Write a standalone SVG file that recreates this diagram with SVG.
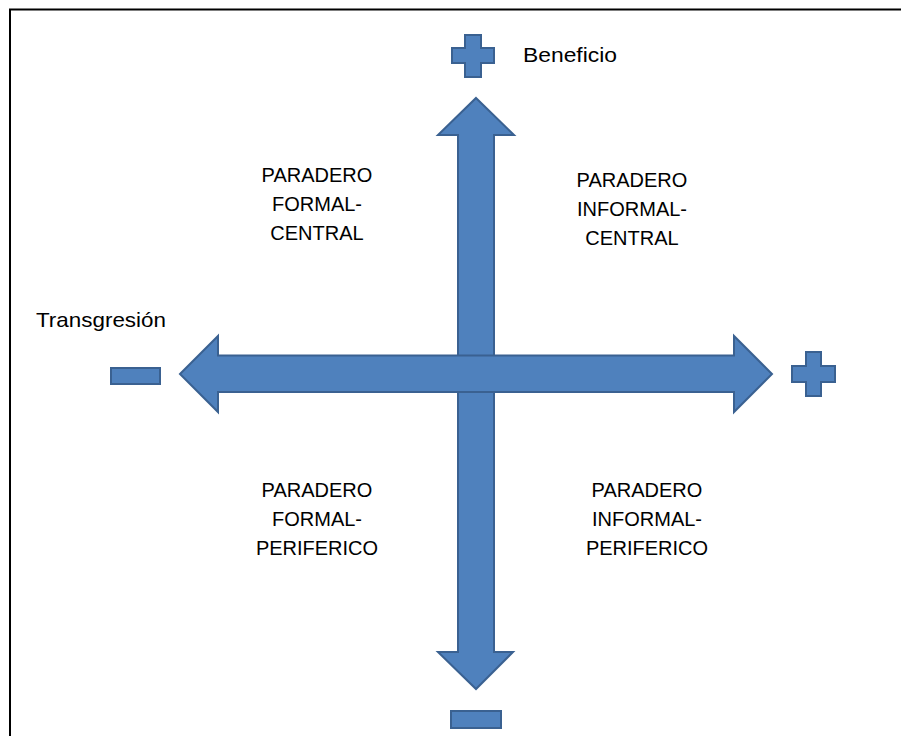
<svg xmlns="http://www.w3.org/2000/svg" width="901" height="736" viewBox="0 0 901 736">
<style>
.shape{fill:#4F81BD;stroke:#3A6191;stroke-width:2;stroke-linejoin:miter}
.q{font-family:"Liberation Sans",Arial,sans-serif;font-size:20px;fill:#000;text-anchor:middle}
.lbl{font-family:"Liberation Sans",Arial,sans-serif;font-size:21px;fill:#000}
</style>
<rect width="901" height="736" fill="#fff"/>
<g id="frame">
<path d="M10 736 V9.5 H901" fill="none" stroke="#000" stroke-width="2"/>
</g>
<g id="connectors">
<path id="axis-vertical" class="shape" d="M476 98 L514 135 L494 135 L494 652 L513 652 L476 689 L438 652 L458 652 L458 135 L438 135 Z"/>
<path id="axis-horizontal" class="shape" d="M180 374 L218 336 L218 355.5 L734 355.5 L734 336 L772 374 L734 412 L734 392 L218 392 L218 412 Z"/>
</g>
<g id="plus-top">
<path class="shape" d="M465 35 H481 V48 H494 V63 H481 V77 H465 V63 H452 V48 H465 Z"/>
</g>
<g id="plus-right">
<path class="shape" d="M806 352 H821 V366 H835 V382 H821 V396 H806 V382 H792 V366 H806 Z"/>
</g>
<g id="minus-left">
<rect class="shape" x="111" y="368" width="49" height="16"/>
</g>
<g id="minus-bottom">
<rect class="shape" x="451" y="711" width="50" height="17"/>
</g>
<g id="label-beneficio">
<text class="lbl" x="523" y="62" textLength="94" lengthAdjust="spacingAndGlyphs">Beneficio</text>
</g>
<g id="label-transgresion">
<text class="lbl" x="36" y="327" textLength="130" lengthAdjust="spacingAndGlyphs">Transgresión</text>
</g>
<g id="q-formal-central">
<text class="q" x="317" y="182">PARADERO</text>
<text class="q" x="317" y="211">FORMAL-</text>
<text class="q" x="317" y="240">CENTRAL</text>
</g>
<g id="q-informal-central">
<text class="q" x="632" y="187">PARADERO</text>
<text class="q" x="632" y="216">INFORMAL-</text>
<text class="q" x="632" y="245">CENTRAL</text>
</g>
<g id="q-formal-periferico">
<text class="q" x="317" y="497">PARADERO</text>
<text class="q" x="317" y="526">FORMAL-</text>
<text class="q" x="317" y="555">PERIFERICO</text>
</g>
<g id="q-informal-periferico">
<text class="q" x="647" y="497">PARADERO</text>
<text class="q" x="647" y="526">INFORMAL-</text>
<text class="q" x="647" y="555">PERIFERICO</text>
</g>
</svg>
